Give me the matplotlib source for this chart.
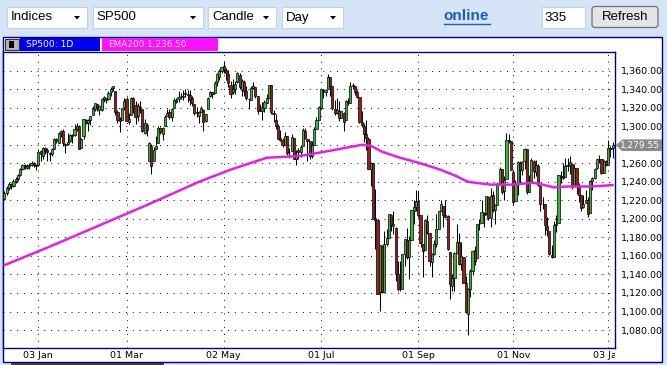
import matplotlib
matplotlib.use("Agg")
import matplotlib.pyplot as plt
import matplotlib.transforms as mtransforms
import pandas as pd
from matplotlib.patches import Rectangle, Polygon, FancyBboxPatch

# ------------------------------
# Data (S&P 500 daily candles, Dec 2010 - Jan 2012)
# ------------------------------
holidays = ["2010-12-24", "2011-01-17", "2011-02-21", "2011-04-22", "2011-05-30",
            "2011-07-04", "2011-09-05", "2011-11-24", "2011-12-26", "2012-01-02"]

opens = [
    1222, 1228, 1233, 1238, 1235, 1241, 1243, 1247, 1254, 1258, 1255, 1257, 1258, 1260, 1257,
    1258, 1273, 1268, 1277, 1274, 1271, 1270, 1275, 1286, 1282, 1293, 1295, 1281, 1281, 1284, 1290, 1291, 1297, 1300, 1277,
    1289, 1307, 1304, 1307, 1312, 1319, 1324, 1318, 1318, 1329, 1331, 1329, 1337, 1341, 1338, 1315, 1308, 1307, 1321,
    1329, 1305, 1312, 1330, 1323, 1311, 1321, 1319, 1293, 1301, 1262, 1279, 1262, 1276, 1282, 1298, 1292, 1300, 1311, 1315, 1310, 1320, 1328,
    1329, 1333, 1332, 1335, 1335, 1334, 1330, 1324, 1315, 1311, 1315, 1318, 1306, 1319, 1333, 1337, 1336, 1348, 1353, 1360,
    1365, 1361, 1356, 1345, 1337, 1340, 1348, 1355, 1339, 1348, 1338, 1329, 1328, 1341, 1342, 1333, 1317, 1316, 1320, 1325, 1331,
    1345, 1314, 1307, 1300, 1287, 1285, 1280, 1289, 1272, 1273, 1287, 1265, 1274, 1272, 1279, 1295, 1286, 1284, 1268, 1280, 1297, 1307,
    1320, 1339, 1337, 1340, 1353, 1343, 1319, 1314, 1317, 1309, 1314, 1307, 1327, 1325, 1344, 1344, 1337, 1332, 1305, 1300,
    1292, 1286, 1254, 1260, 1201, 1199, 1121, 1171, 1121, 1173, 1179, 1204, 1192, 1190, 1140, 1124, 1124, 1162, 1177, 1159, 1177, 1209, 1213,
    1219, 1204, 1173, 1166, 1198, 1185, 1153, 1162, 1173, 1189, 1209, 1214, 1204, 1203, 1164, 1128, 1136, 1163, 1175, 1151, 1159,
    1131, 1097, 1124, 1144, 1166, 1158, 1194, 1196, 1206, 1206, 1224, 1201, 1226, 1210, 1215, 1239, 1254, 1230, 1243, 1284, 1284,
    1251, 1219, 1238, 1260, 1253, 1262, 1275, 1229, 1241, 1263, 1251, 1257, 1236, 1216, 1216, 1192, 1187, 1161, 1159, 1193, 1196,
    1246, 1246, 1245, 1257, 1258, 1259, 1235, 1255, 1236, 1226, 1213, 1217, 1220, 1206, 1241, 1244, 1255, 1265, 1265, 1250, 1262,
    1258, 1276, 1277,
]
highs = [
    1230, 1235, 1240, 1239, 1243, 1245, 1249, 1255, 1259, 1259, 1259, 1260, 1262, 1261, 1259,
    1276, 1274, 1278, 1278, 1277, 1272, 1277, 1287, 1287, 1294, 1296, 1297, 1282, 1293, 1292, 1292, 1302, 1304, 1301, 1287,
    1308, 1308, 1308, 1311, 1322, 1325, 1324, 1323, 1331, 1333, 1331, 1338, 1342, 1344, 1338, 1318, 1310, 1320, 1330,
    1332, 1314, 1332, 1332, 1327, 1325, 1327, 1319, 1308, 1304, 1283, 1281, 1278, 1289, 1300, 1299, 1299, 1312, 1319, 1319, 1320, 1331, 1330,
    1338, 1336, 1339, 1340, 1339, 1339, 1333, 1324, 1321, 1316, 1322, 1319, 1313, 1332, 1338, 1337, 1349, 1358, 1362, 1364,
    1371, 1363, 1361, 1349, 1351, 1349, 1359, 1358, 1351, 1350, 1343, 1331, 1343, 1348, 1342, 1333, 1324, 1326, 1328, 1335, 1345,
    1345, 1318, 1313, 1302, 1296, 1287, 1294, 1289, 1277, 1292, 1287, 1274, 1277, 1280, 1298, 1298, 1286, 1284, 1284, 1299, 1310, 1322,
    1341, 1340, 1340, 1356, 1353, 1343, 1328, 1331, 1327, 1317, 1315, 1328, 1331, 1348, 1347, 1344, 1339, 1332, 1316, 1304,
    1307, 1288, 1261, 1260, 1232, 1199, 1172, 1172, 1187, 1189, 1205, 1205, 1208, 1191, 1154, 1154, 1162, 1178, 1190, 1182, 1210, 1220, 1231,
    1230, 1204, 1173, 1199, 1204, 1185, 1163, 1177, 1205, 1209, 1220, 1214, 1220, 1204, 1164, 1141, 1164, 1195, 1185, 1175, 1159,
    1138, 1125, 1146, 1165, 1171, 1195, 1200, 1220, 1207, 1225, 1225, 1233, 1230, 1216, 1240, 1256, 1254, 1246, 1293, 1292, 1284,
    1253, 1242, 1263, 1263, 1263, 1277, 1275, 1247, 1266, 1264, 1264, 1259, 1237, 1224, 1216, 1202, 1187, 1172, 1198, 1204, 1247,
    1252, 1260, 1266, 1266, 1268, 1260, 1259, 1255, 1239, 1226, 1226, 1231, 1224, 1242, 1245, 1255, 1265, 1269, 1265, 1264, 1264,
    1285, 1279, 1283,
]
lows = [
    1220, 1226, 1231, 1232, 1234, 1239, 1241, 1246, 1253, 1254, 1254, 1254, 1257, 1256, 1253,
    1257, 1262, 1265, 1270, 1262, 1263, 1268, 1275, 1282, 1282, 1288, 1279, 1271, 1280, 1283, 1282, 1290, 1295, 1275, 1277,
    1286, 1302, 1295, 1301, 1312, 1316, 1317, 1312, 1317, 1326, 1325, 1328, 1333, 1338, 1312, 1303, 1294, 1307, 1318,
    1306, 1302, 1312, 1314, 1302, 1306, 1314, 1294, 1292, 1289, 1262, 1249, 1262, 1276, 1282, 1292, 1285, 1300, 1311, 1308, 1306, 1320, 1325,
    1326, 1329, 1328, 1332, 1326, 1323, 1322, 1312, 1310, 1303, 1315, 1295, 1305, 1319, 1332, 1331, 1336, 1344, 1350, 1358,
    1358, 1350, 1342, 1330, 1335, 1335, 1347, 1340, 1333, 1333, 1328, 1319, 1328, 1340, 1330, 1313, 1316, 1307, 1315, 1325, 1331,
    1313, 1305, 1297, 1286, 1284, 1278, 1281, 1269, 1266, 1273, 1265, 1258, 1265, 1267, 1279, 1286, 1263, 1265, 1266, 1280, 1297, 1307,
    1319, 1330, 1333, 1340, 1333, 1318, 1312, 1313, 1306, 1309, 1295, 1307, 1323, 1325, 1340, 1334, 1330, 1304, 1299, 1283,
    1274, 1254, 1235, 1200, 1168, 1119, 1101, 1120, 1121, 1171, 1179, 1187, 1184, 1133, 1122, 1122, 1124, 1149, 1157, 1135, 1177, 1195, 1209,
    1202, 1170, 1137, 1167, 1184, 1149, 1137, 1161, 1170, 1189, 1208, 1191, 1201, 1166, 1114, 1122, 1122, 1163, 1150, 1145, 1131,
    1098, 1075, 1116, 1139, 1150, 1158, 1188, 1196, 1191, 1204, 1199, 1191, 1207, 1195, 1215, 1239, 1227, 1220, 1243, 1282, 1253,
    1215, 1219, 1226, 1239, 1247, 1254, 1227, 1229, 1241, 1244, 1246, 1235, 1209, 1211, 1183, 1182, 1161, 1158, 1159, 1186, 1196,
    1239, 1243, 1245, 1252, 1249, 1232, 1235, 1227, 1218, 1209, 1212, 1217, 1202, 1206, 1231, 1243, 1254, 1260, 1248, 1251, 1257,
    1258, 1267, 1266,
]
closes = [
    1228, 1233, 1238, 1235, 1241, 1243, 1247, 1254, 1258, 1256, 1257, 1258, 1260, 1258, 1258,
    1272, 1270, 1277, 1274, 1272, 1270, 1275, 1286, 1284, 1293, 1295, 1282, 1280, 1283, 1291, 1291, 1297, 1300, 1276, 1286,
    1308, 1304, 1307, 1311, 1319, 1325, 1321, 1322, 1329, 1332, 1328, 1336, 1340, 1343, 1315, 1307, 1306, 1320, 1327,
    1306, 1308, 1331, 1321, 1310, 1322, 1320, 1295, 1304, 1296, 1282, 1257, 1274, 1279, 1298, 1294, 1298, 1310, 1314, 1310, 1319, 1328, 1326,
    1332, 1333, 1333, 1336, 1334, 1328, 1325, 1314, 1314, 1315, 1320, 1305, 1313, 1330, 1337, 1335, 1347, 1356, 1360, 1364,
    1361, 1357, 1347, 1335, 1340, 1346, 1357, 1342, 1349, 1338, 1330, 1329, 1341, 1344, 1333, 1317, 1316, 1321, 1326, 1331, 1345,
    1315, 1313, 1300, 1286, 1285, 1280, 1289, 1271, 1272, 1288, 1265, 1268, 1272, 1278, 1296, 1287, 1284, 1268, 1280, 1297, 1307, 1321,
    1340, 1338, 1339, 1353, 1344, 1320, 1314, 1318, 1309, 1316, 1305, 1327, 1326, 1344, 1345, 1337, 1332, 1305, 1301, 1292,
    1287, 1254, 1260, 1200, 1199, 1119, 1172, 1121, 1173, 1179, 1205, 1193, 1194, 1141, 1124, 1124, 1162, 1178, 1159, 1177, 1210, 1213, 1219,
    1204, 1174, 1165, 1199, 1186, 1154, 1162, 1173, 1189, 1209, 1216, 1204, 1202, 1167, 1130, 1136, 1163, 1175, 1151, 1160, 1131,
    1099, 1124, 1144, 1165, 1155, 1195, 1195, 1207, 1204, 1225, 1201, 1225, 1210, 1215, 1238, 1254, 1229, 1242, 1285, 1285, 1253,
    1218, 1238, 1261, 1253, 1261, 1276, 1229, 1240, 1264, 1252, 1258, 1237, 1216, 1216, 1193, 1188, 1162, 1159, 1193, 1195, 1247,
    1245, 1244, 1257, 1258, 1261, 1234, 1255, 1236, 1226, 1212, 1216, 1220, 1205, 1241, 1244, 1254, 1265, 1265, 1250, 1263, 1258,
    1277, 1277, 1279.55,
]

# EMA200 (bar index, value)
ema_idx = [0, 20, 42, 64, 86, 101, 116, 131, 145, 158, 162, 167, 175, 184, 193,
           200, 205, 215, 224, 234, 238, 243, 249, 258, 263, 269]
ema_val = [1150, 1170, 1193, 1216, 1240, 1254, 1266, 1268, 1274, 1280, 1279, 1272.5, 1266, 1260, 1253,
           1246, 1240, 1237, 1237, 1239, 1237, 1234, 1235, 1235, 1235.5, 1236.5]

tick_dates = ["2011-01-03", "2011-03-01", "2011-05-02", "2011-07-01", "2011-09-01", "2011-11-01", "2012-01-03"]
tick_labels = ["03 Jan", "01 Mar", "02 May", "01 Jul", "01 Sep", "01 Nov", "03 Jan"]
y_ticks = list(range(1080, 1361, 20))
last_price = 1279.55
ema_last = 1236.50

dates = pd.bdate_range("2010-12-10", "2012-01-05")
dates = dates[~dates.isin(pd.to_datetime(holidays))]
n = min(len(dates), len(opens), len(highs), len(lows), len(closes))
idx = list(range(n))

BG = "#D5E4F6"
NAVY = "#000080"
GREEN = "#38B838"
RED = "#A01C1C"
MAGENTA = "#E61EE6"

fig = plt.figure(figsize=(6.67, 3.65), dpi=100)
fig.patch.set_facecolor(BG)

# background layer in pixel coords (y down)
bg = fig.add_axes([0, 0, 1, 1])
bg.set_xlim(0, 667)
bg.set_ylim(365, 0)
bg.axis("off")
bg.set_zorder(0)

# ------------------------------
# Toolbar
# ------------------------------
for x0, x1, label in [(6.5, 87, "Indices"), (92.5, 203, "SP500"), (208, 276, "Candle"), (281.5, 343, "Day")]:
    bg.add_patch(Rectangle((x0, 7), x1 - x0, 20.5, facecolor="white", edgecolor="#C4D2E4", lw=0.8))
    bg.text(x0 + 4, 17.5, label, fontsize=9.5, family="Liberation Sans", va="center", ha="left")
    bg.add_patch(Polygon([(x1 - 13, 16), (x1 - 7, 16), (x1 - 10, 19.5)], closed=True,
                         facecolor="black", edgecolor="none"))

bg.text(466, 16.5, "online", fontsize=11, family="Liberation Sans", weight="bold",
        color="#1A5FB4", ha="center", va="center")
bg.plot([443.5, 489.5], [24, 24], color="#1A5FB4", lw=1)

bg.add_patch(Rectangle((541.5, 7), 43.5, 21, facecolor="white", edgecolor="#C4D2E4", lw=0.8))
bg.text(544, 18, "335", fontsize=9.5, family="Liberation Sans", va="center", ha="left")
bg.add_patch(FancyBboxPatch((592, 6.5), 66, 21, boxstyle="round,pad=0,rounding_size=3",
                            facecolor="#E4E4E4", edgecolor="#707070", lw=0.9))
bg.text(625, 16.5, "Refresh", fontsize=9.5, family="Liberation Sans", va="center", ha="center")

# ------------------------------
# Chart panel + header
# ------------------------------
bg.add_patch(Rectangle((3, 37), 659, 325, facecolor="white", edgecolor=NAVY, lw=1))
bg.add_patch(Rectangle((4.5, 39), 14, 10.5, facecolor="#B4B4B4", edgecolor="#303030", lw=0.8))
bg.add_patch(Rectangle((9, 41), 5, 6.5, facecolor="black", edgecolor="none"))
bg.add_patch(Rectangle((20, 38), 80, 13, facecolor="#0000F0", edgecolor="none"))
bg.text(26, 44.5, "SP500: 1D", fontsize=6.6, color="white", va="center", ha="left")
bg.add_patch(Rectangle((101.5, 38), 116.5, 13, facecolor="#FF10FF", edgecolor="none"))
bg.text(108, 44.5, f"EMA200:{ema_last:,.2f}", fontsize=6.4, color="#FFE4FF", va="center", ha="left")
bg.plot([12, 163], [364, 364], color="#202020", lw=1.2)

ax = fig.add_axes([3 / 667, (365 - 348) / 365, (615 - 3) / 667, (348 - 52) / 365])
ax.set_zorder(1)
ax.set_facecolor("white")

# candles
ax.vlines(idx, lows[:n], highs[:n], color="black", lw=0.75, zorder=2)
for i in idx:
    o, c = opens[i], closes[i]
    col = GREEN if c >= o else RED
    ax.bar(i, abs(c - o), bottom=min(o, c), width=0.95, color=col,
           edgecolor="black", linewidth=0.5, zorder=3)

ax.plot(ema_idx, ema_val, color=MAGENTA, lw=1.8, zorder=4, solid_capstyle="round")

tick_pos = [dates.get_loc(pd.Timestamp(d)) for d in tick_dates]
ax.set_xticks(tick_pos, tick_labels)
# the 1,280 label sits under the last-price tag, as in the reference
y_labels = ["" if abs(v - last_price) < 10 else f"{v:,.2f}" for v in y_ticks]
ax.set_yticks(y_ticks, y_labels)
ax.yaxis.tick_right()
ax.tick_params(axis="both", length=0, labelsize=6.8, colors="black")
ax.tick_params(axis="y", pad=4)
ax.tick_params(axis="x", pad=2)
ax.set_xlim(-0.62, 270.0)
ax.set_ylim(1060.6, 1380.2)
ax.grid(True, color="black", linestyle=(0, (1, 6)), linewidth=0.7)
ax.set_axisbelow(True)
for s in ax.spines.values():
    s.set_color(NAVY)
    s.set_linewidth(1)

clip = Rectangle((0, 0), 615 / 667, 1, transform=fig.transFigure)
lbl = ax.get_xticklabels()[-1]
lbl.set_clip_path(clip)

# last price tag
tr = mtransforms.blended_transform_factory(bg.transData, ax.transData)
h = 6.3
bg.add_patch(Polygon([(616, last_price), (622, last_price + h), (662, last_price + h),
                      (662, last_price - h), (622, last_price - h)], closed=True,
                     transform=tr, facecolor="#8A8A8A", edgecolor="none", zorder=5, clip_on=False))
fig.text(620 / 667, 0, f"{last_price:,.2f}", fontsize=6.5, color="white", va="center", ha="left",
         transform=mtransforms.blended_transform_factory(fig.transFigure, ax.transData),
         zorder=6).set_y(last_price)

fig.savefig("out.png", dpi=100, facecolor=BG)
